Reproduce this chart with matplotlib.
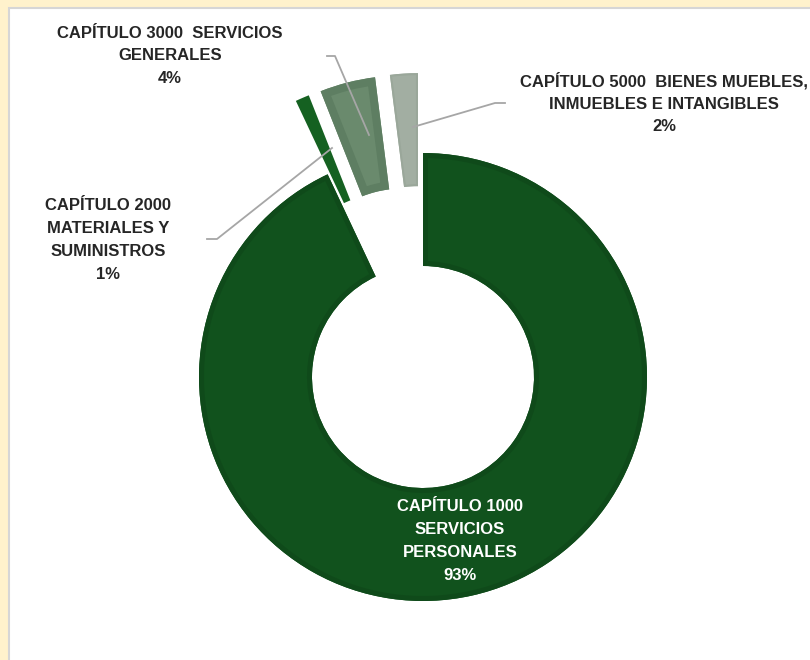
import matplotlib.pyplot as plt
from matplotlib.patches import Rectangle, PathPatch

# datos del gráfico (porcentaje por capítulo)
labels = [
    'CAPÍTULO 1000\nSERVICIOS\nPERSONALES',
    'CAPÍTULO 2000\nMATERIALES Y\nSUMINISTROS',
    'CAPÍTULO 3000  SERVICIOS\nGENERALES',
    'CAPÍTULO 5000  BIENES MUEBLES,\nINMUEBLES E INTANGIBLES',
]
values = [93, 1, 4, 2]

fill_colors = ['#11521D', '#156121', '#6A8A6D', '#A2AEA2']
band_colors = ['#0F4A1A', '#156121', '#5E7E62', '#9AA79A']
band_px = [5, 0, 8, 2]
explode = [0, 80, 80, 80]  # desplazamiento en px

H = 660  # alto en px, para pasar de coordenadas de imagen a datos


def Y(y):
    return H - y


fig = plt.figure(figsize=(8.1, 6.6), dpi=100)
fig.patch.set_facecolor('#FFF2CC')
ax = fig.add_axes([0, 0, 1, 1])

# área blanca del gráfico
ax.add_patch(Rectangle((9, -5), 810, Y(8) + 5, facecolor='white',
                       edgecolor='#D6D6D6', linewidth=1.5, zorder=0))

wedges, _ = ax.pie(values, startangle=90, counterclock=False,
                   center=(423, Y(377)), radius=224, explode=explode,
                   colors=fill_colors,
                   wedgeprops=dict(width=113, linewidth=0))

# borde interior más oscuro, como en Excel
for w, bc, bp in zip(wedges, band_colors, band_px):
    if bp:
        band = PathPatch(w.get_path(), facecolor='none', edgecolor=bc,
                         linewidth=2 * bp * 0.72, zorder=3)
        ax.add_patch(band)
        band.set_clip_path(w)

ax.set_xlim(0, 810)
ax.set_ylim(0, H)
ax.set_aspect('equal')
ax.axis('off')

font = ['Liberation Sans', 'DejaVu Sans']
tkw = dict(ha='center', va='center', fontsize=12, fontweight='bold',
           family=font, linespacing=1.64)

pcts = [f'{v}%' for v in values]
ax.text(460, Y(541), f'{labels[0]}\n{pcts[0]}', color='white', zorder=5, **tkw)
ax.text(108, Y(240), f'{labels[1]}\n{pcts[1]}', color='#262626', **tkw)
ax.text(170, Y(56), f'{labels[2]}\n{pcts[2]}', color='#262626', **tkw)
ax.text(664, Y(103), f'{labels[3]}\n{pcts[3]}', color='#262626', **tkw)

# líneas guía
lkw = dict(color='#A6A6A6', linewidth=1.3, zorder=6)
ax.plot([207, 217, 332], [Y(239), Y(239), Y(148)], **lkw)
ax.plot([327, 335, 369], [Y(56), Y(56), Y(135)], **lkw)
ax.plot([413, 495, 505], [Y(127), Y(103), Y(103)], **lkw)

fig.savefig('out.png', dpi=100, facecolor=fig.get_facecolor())
